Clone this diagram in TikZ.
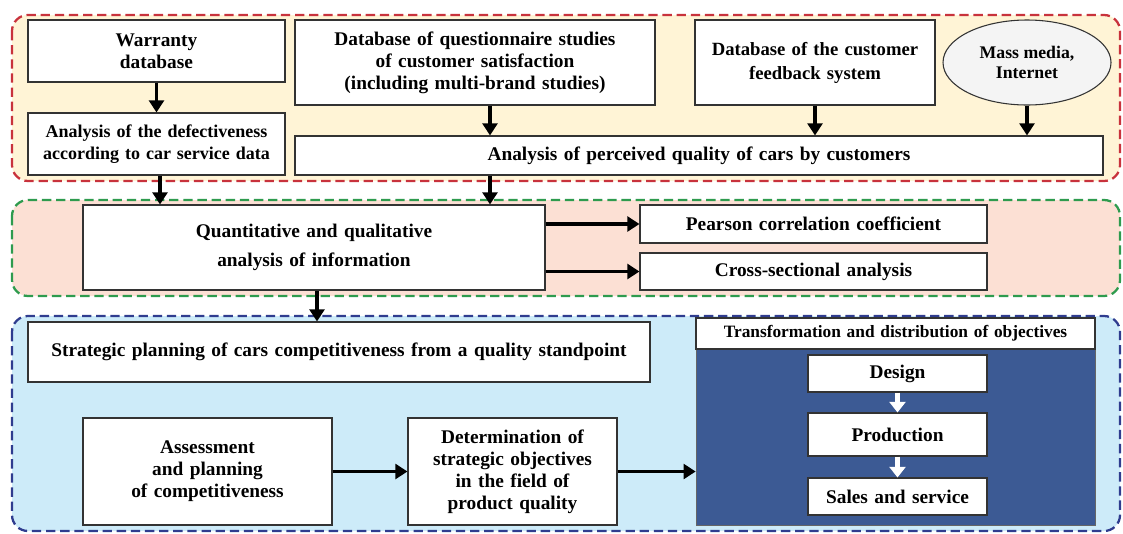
\documentclass[tikz,border=0pt]{standalone}
\usepackage{fontspec}
\setmainfont{Liberation Serif}
\usetikzlibrary{arrows.meta,calc,shapes.geometric}
\definecolor{grpYellow}{HTML}{FFF4D6}
\definecolor{grpRed}{HTML}{C8323C}
\definecolor{grpPeach}{HTML}{FCE0D4}
\definecolor{grpGreen}{HTML}{2E9B4E}
\definecolor{grpLBlue}{HTML}{CDEBF9}
\definecolor{grpBlue}{HTML}{2F3C8F}
\definecolor{darkPanel}{HTML}{3C5A94}
\definecolor{ellFill}{HTML}{F4F4F4}
\tikzset{
  group/.style={rounded corners=12pt, line width=1.7pt, dash pattern=on 7pt off 3.6pt},
  box/.style={draw=black!80, fill=white, line width=0.8pt, align=center, inner sep=2pt,
              font=\bfseries\fontsize{14.5}{16.5}\selectfont},
  sz/.style 2 args={minimum width=#1*0.75pt, minimum height=#2*0.75pt, text width=#1*0.75pt-6pt},
  arr/.style={line width=2.6pt, -{Triangle[length=9pt,width=11pt]}},
  warr/.style={white, line width=4pt, -{Triangle[length=8pt,width=12pt]}},
}
\begin{document}
\begin{tikzpicture}[x=0.75pt,y=-0.75pt]
\useasboundingbox (0,0) rectangle (1123,533);
% group boxes
\draw[group, draw=grpRed, fill=grpYellow] (12,15) rectangle (1120,181);
\draw[group, draw=grpGreen, fill=grpPeach] (12,200) rectangle (1120,296);
\draw[group, draw=grpBlue, fill=grpLBlue] (12,316) rectangle (1120,531);

% top group
\node[box, sz={257}{62}] (warr) at (156.5,51) {Warranty\\database};
\node[box, sz={257}{62}, font=\bfseries\fontsize{13.5}{16.5}\selectfont] (defect) at (156.5,144) {Analysis of the defectiveness\\according to car service data};
\node[box, sz={360}{85}] (quest) at (475,62.5) {Database of questionnaire studies\\of customer satisfaction\\(including multi-brand studies)};
\node[box, sz={240}{85}, font=\bfseries\fontsize{14}{18}\selectfont] (feed) at (815,62.5) {Database of the customer\\feedback system\\[4pt]};
\node[draw=black!80, fill=ellFill, line width=0.8pt, ellipse, minimum width=168*0.75pt, minimum height=85*0.75pt,
      inner sep=0pt, align=center, font=\bfseries\fontsize{13.3}{15.5}\selectfont] (media) at (1027,62.5) {Mass media,\\Internet};
\node[box, sz={808}{39}] (perc) at (699,155.5) {Analysis of perceived quality of cars by customers};

% middle group
\node[box, sz={462}{85}, font=\bfseries\fontsize{14.5}{21.75}\selectfont] (quant) at (314,247.5) {Quantitative and qualitative\\analysis of information};
\node[box, sz={347}{38}] (pearson) at (813.5,224) {Pearson correlation coefficient};
\node[box, sz={347}{37}] (cross) at (813.5,271.5) {Cross-sectional analysis};

% bottom group
\node[box, sz={622}{60}] (strat) at (339,352) {Strategic planning of cars competitiveness from a quality standpoint};
\node[box, sz={249}{107}] (assess) at (207.5,471.5) {Assessment\\and planning\\of competitiveness};
\node[box, sz={209}{107}] (determ) at (512.5,471.5) {Determination of\\strategic objectives\\in the field of\\product quality};
\node[fill=darkPanel, draw=black!60, line width=0.5pt, minimum width=399*0.75pt, minimum height=176*0.75pt, inner sep=0pt] (tbody) at (895.5,437) {};
\node[box, sz={399}{31}, font=\bfseries\fontsize{13}{15}\selectfont] (trans) at (895.5,333.5) {Transformation and distribution of objectives};
\node[box, sz={179}{37}] (design) at (897.5,373.5) {Design};
\node[box, sz={179}{43}] (prod) at (897.5,434.5) {Production};
\node[box, sz={179}{37}] (sales) at (897.5,496.5) {Sales and service};

% arrows
\draw[arr] (warr.south) -- (defect.north);
\draw[arr] (490,0 |- quest.south) -- (490,0 |- perc.north);
\draw[arr] (815,0 |- feed.south) -- (815,0 |- perc.north);
\draw[arr] (media.south) -- (media.south |- perc.north);
\draw[arr] (160,0 |- defect.south) -- (160,0 |- quant.north);
\draw[arr] (490,0 |- perc.south) -- (490,0 |- quant.north);
\draw[arr] (quant.east |- pearson) -- (pearson.west);
\draw[arr] (quant.east |- cross) -- (cross.west);
\draw[arr] (317,0 |- quant.south) -- (317,0 |- strat.north);
\draw[arr] (assess.east) -- (determ.west);
\draw[arr] (determ.east) -- (determ.east -| tbody.west);
\draw[warr] (design.south) -- (prod.north);
\draw[warr] (prod.south) -- (sales.north);
\end{tikzpicture}
\end{document}
